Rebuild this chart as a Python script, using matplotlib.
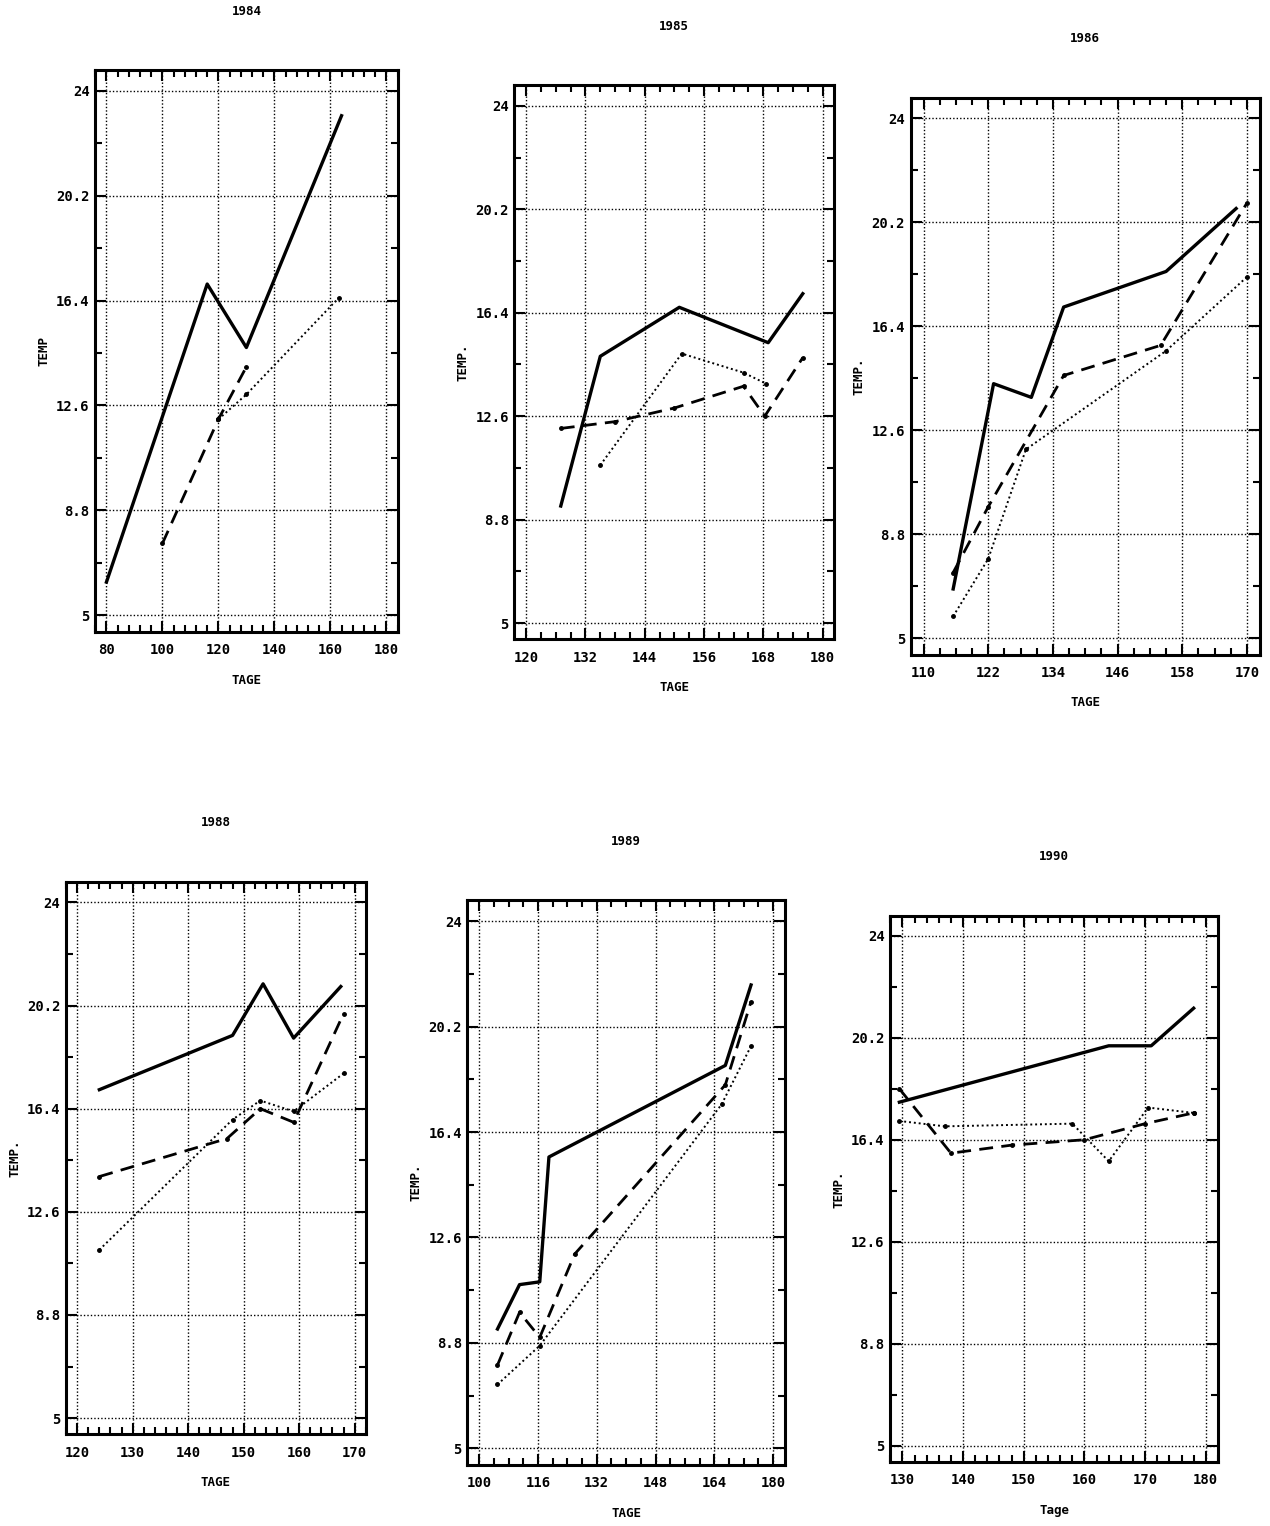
import matplotlib
matplotlib.use('Agg')
import matplotlib.pyplot as plt
from matplotlib.ticker import AutoMinorLocator

years = ['1984', '1985', '1986', '1988', '1989', '1990']
x_labels = ['TAGE', 'TAGE', 'TAGE', 'TAGE', 'TAGE', 'Tage']
y_labels = ['TEMP', 'TEMP.', 'TEMP.', 'TEMP.', 'TEMP.', 'TEMP.']

x_ticks = [
    [80, 100, 120, 140, 160, 180],
    [120, 132, 144, 156, 168, 180],
    [110, 122, 134, 146, 158, 170],
    [120, 130, 140, 150, 160, 170],
    [100, 116, 132, 148, 164, 180],
    [130, 140, 150, 160, 170, 180],
]
y_ticks = [5, 8.8, 12.6, 16.4, 20.2, 24]

# solid line
solid_tage = [
    [80, 116, 130, 164],
    [127, 135, 151, 169, 176],
    [115.5, 123, 130, 136, 155, 168],
    [124, 148, 153.5, 159, 167.5],
    [105, 111, 116.5, 119, 167, 174],
    [129.5, 164, 171, 178],
]
solid_temp = [
    [6.2, 17.0, 14.7, 23.1],
    [9.3, 14.8, 16.6, 15.3, 17.1],
    [6.8, 14.3, 13.8, 17.1, 18.4, 20.7],
    [17.1, 19.1, 21.0, 19.0, 20.9],
    [9.3, 10.9, 11.0, 15.5, 18.8, 21.7],
    [17.8, 19.9, 19.9, 21.3],
]

# dashed line
dashed_tage = [
    [100, 120, 130],
    [127, 138, 150, 164, 168.3, 176],
    [115.5, 122, 136, 154, 170],
    [124, 147, 153, 159, 168],
    [105, 111, 116.5, 126, 167, 174],
    [129.5, 138, 148, 160, 170, 178],
]
dashed_temp = [
    [7.6, 12.1, 14.0],
    [12.15, 12.4, 12.9, 13.7, 12.6, 14.75],
    [7.4, 9.8, 14.6, 15.7, 20.9],
    [13.9, 15.3, 16.4, 15.9, 19.9],
    [8.0, 9.9, 9.0, 12.0, 18.1, 21.1],
    [18.3, 15.9, 16.2, 16.4, 17.0, 17.4],
]

# dotted line
dotted_tage = [
    [120, 130, 163],
    [135, 151.5, 164, 168.5],
    [115.5, 122, 129, 155, 170],
    [124, 148, 153, 159, 168],
    [105, 116.5, 166, 174],
    [129.5, 137, 158, 164, 170.5, 178],
]
dotted_temp = [
    [12.1, 13.0, 16.5],
    [10.8, 14.9, 14.2, 13.8],
    [5.8, 7.9, 11.9, 15.5, 18.2],
    [11.2, 16.0, 16.7, 16.3, 17.7],
    [7.3, 8.7, 17.4, 19.5],
    [17.1, 16.9, 17.0, 15.6, 17.6, 17.4],
]

# axes boxes in figure fraction: left, bottom, width, height
boxes = [
    [0.075, 0.586, 0.238, 0.368],
    [0.405, 0.581, 0.252, 0.363],
    [0.717, 0.571, 0.275, 0.365],
    [0.052, 0.060, 0.236, 0.362],
    [0.368, 0.040, 0.250, 0.370],
    [0.701, 0.042, 0.258, 0.358],
]

plt.rcParams['font.family'] = 'DejaVu Sans Mono'
plt.rcParams['font.weight'] = 'bold'

fig = plt.figure(figsize=(12.7, 15.26), dpi=100)

for i in range(6):
    ax = fig.add_axes(boxes[i])
    ticks = x_ticks[i]
    step = ticks[1] - ticks[0]
    ax.plot(solid_tage[i], solid_temp[i], color='black', lw=2.4, ls='-')
    ax.plot(dashed_tage[i], dashed_temp[i], color='black', lw=2.0, ls=(0, (5, 3)),
            marker='o', ms=2.5)
    ax.plot(dotted_tage[i], dotted_temp[i], color='black', lw=1.4, ls=(0, (1, 1.5)),
            marker='o', ms=2.5)

    ax.set_xlim(ticks[0] - 0.2 * step, ticks[-1] + 0.2 * step)
    ax.set_ylim(4.4, 24.75)
    ax.set_xticks(ticks)
    ax.set_xticklabels([str(t) for t in ticks])
    ax.set_yticks(y_ticks)
    ax.set_yticklabels(['5', '8.8', '12.6', '16.4', '20.2', '24'])
    ax.xaxis.set_minor_locator(AutoMinorLocator(4 if step in (12, 16) else 5))
    ax.yaxis.set_minor_locator(AutoMinorLocator(2))
    ax.tick_params(which='both', direction='in', top=True, right=True, labelsize=10, width=1.5)
    ax.tick_params(which='major', length=8)
    ax.tick_params(axis='x', which='major', pad=8)
    ax.tick_params(axis='y', which='major', pad=4)
    ax.tick_params(which='minor', length=5)
    ax.grid(True, which='major', color='black', lw=1.0, ls=(0, (1, 1.5)))
    for s in ax.spines.values():
        s.set_linewidth(2.2)

    ax.set_title(years[i], fontsize=9, fontweight='bold', pad=40)
    ax.set_xlabel(x_labels[i], fontsize=9, fontweight='bold', labelpad=12)
    ax.set_ylabel(y_labels[i], fontsize=9, fontweight='bold', labelpad=4)

plt.savefig('out.png', dpi=100)
